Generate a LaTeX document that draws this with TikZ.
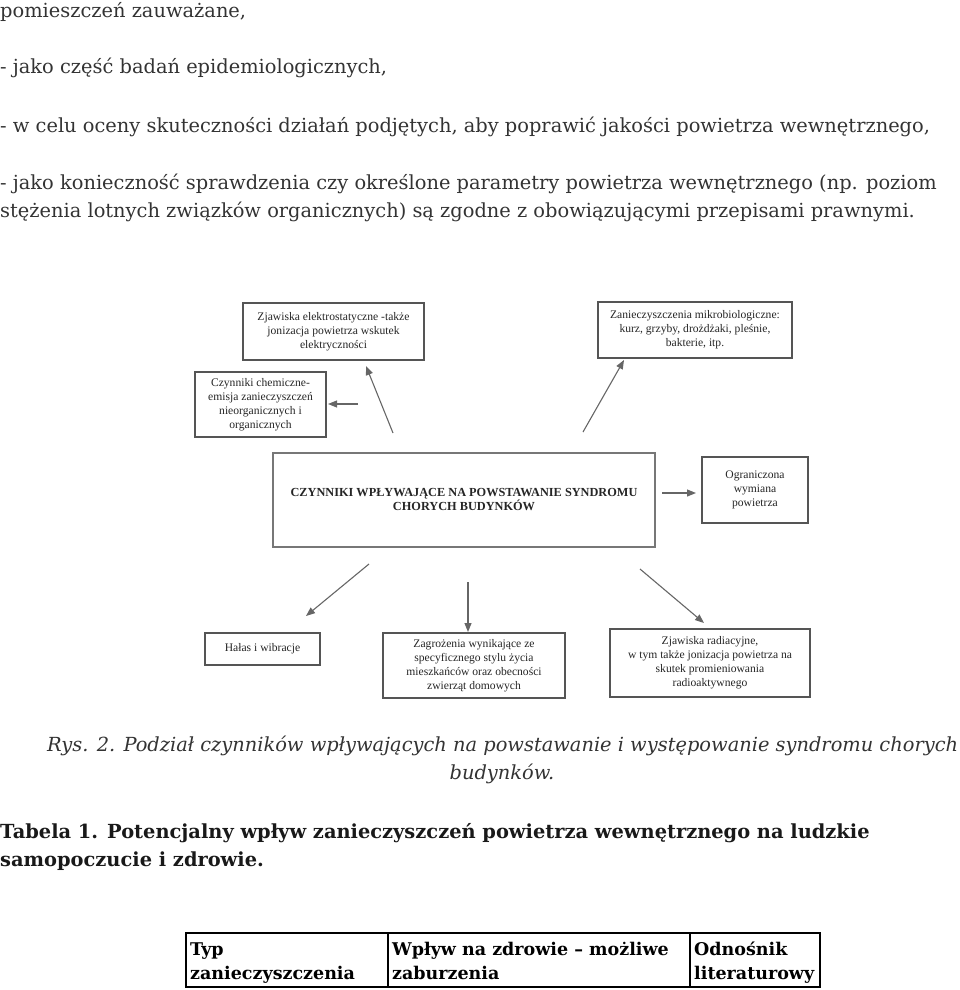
\documentclass[tikz,border=0pt]{standalone}
\usepackage{fontspec}
\setmainfont{DejaVu Serif}
\newfontfamily\diafont{Liberation Serif}
\usetikzlibrary{arrows.meta}
\definecolor{txt}{HTML}{333333}
\definecolor{frame}{HTML}{555555}
\tikzset{
  para/.style={anchor=base west, inner sep=0pt, text=txt, font=\fontsize{19.4}{23}\selectfont},
  box/.style={draw=frame, line width=1.6pt, fill=white, align=center, inner sep=2pt,
     text=black!85, font=\diafont\fontsize{11.6}{14}\selectfont},
  conn/.style={draw=frame!90, line width=1.1pt, -{Triangle[length=9pt,width=7pt]}},
  cell/.style={anchor=base west, inner sep=0pt, font=\bfseries\fontsize{17.5}{20}\selectfont}
}
\begin{document}
\begin{tikzpicture}[x=1pt,y=-1pt]
\useasboundingbox (0,0) rectangle (960,990);
% top paragraph
\node[para] (l1) at (0,18) {pomieszczeń zauważane,};
\node[para] (l2) at (0,74) {- jako część badań epidemiologicznych,};
\node[para] (l3) at (0,132) {- w celu oceny skuteczności działań podjętych, aby poprawić jakości powietrza wewnętrznego,};
\node[para] (l4) at (0,189) {- jako konieczność sprawdzenia czy określone parametry powietrza wewnętrznego (np. poziom};
\node[para] (l5) at (0,217) {stężenia lotnych związków organicznych) są zgodne z obowiązującymi przepisami prawnymi.};
% diagram boxes
\node[box, minimum width=181, minimum height=57] (b1) at (333.5,331.5)
  {Zjawiska elektrostatyczne -także\\jonizacja powietrza wskutek\\elektryczności};
\node[box, minimum width=194, minimum height=56] (b2) at (695,330)
  {Zanieczyszczenia mikrobiologiczne:\\kurz, grzyby, drożdżaki, pleśnie,\\bakterie, itp.};
\node[box, minimum width=131, minimum height=65] (b3) at (260.5,404.5)
  {Czynniki chemiczne-\\emisja zanieczyszczeń\\nieorganicznych i\\organicznych};
\node[box, line width=2.6pt, draw=frame!80, minimum width=382, minimum height=94,
  font=\diafont\bfseries\fontsize{12.3}{14}\selectfont] (main) at (464,500)
  {CZYNNIKI WPŁYWAJĄCE NA POWSTAWANIE SYNDROMU\\CHORYCH BUDYNKÓW};
\node[box, minimum width=106, minimum height=66] (b4) at (755,490)
  {Ograniczona\\wymiana\\powietrza};
\node[box, minimum width=115, minimum height=32] (b5) at (262.5,649)
  {Hałas i wibracje};
\node[box, minimum width=182, minimum height=65] (b6) at (474,665.5)
  {Zagrożenia wynikające ze\\specyficznego stylu życia\\mieszkańców oraz obecności\\zwierząt domowych};
\node[box, minimum width=200, minimum height=68] (b7) at (710,663)
  {Zjawiska radiacyjne,\\w tym także jonizacja powietrza na\\skutek promieniowania\\radioaktywnego};
% arrow end points
\coordinate (s1) at (393,433); \coordinate (t1) at (366,366);
\coordinate (s2) at (583,432); \coordinate (t2) at (624,360);
\coordinate (s3) at (358,404); \coordinate (t3) at (328,404);
\coordinate (s4) at (662,493); \coordinate (t4) at (696,493);
\coordinate (s5) at (369,564); \coordinate (t5) at (306,616);
\coordinate (s6) at (468,582); \coordinate (t6) at (468,632);
\coordinate (s7) at (640,569); \coordinate (t7) at (704,623);
\draw[conn] (s1) -- (t1);
\draw[conn] (s2) -- (t2);
\draw[conn] (s3) -- (t3);
\draw[conn] (s4) -- (t4);
\draw[conn] (s5) -- (t5);
\draw[conn] (s6) -- (t6);
\draw[conn] (s7) -- (t7);
% caption
\node[para, font=\itshape\fontsize{19.4}{23}\selectfont] (cap1) at (47,751)
  {Rys. 2. Podział czynników wpływających na powstawanie i występowanie syndromu chorych};
\node[para, anchor=base, font=\itshape\fontsize{19.4}{23}\selectfont] (cap2) at (502,779) {budynków.};
\node[para, text=black!90, font=\bfseries\fontsize{19.4}{23}\selectfont] (tab1) at (0,838)
  {Tabela 1. Potencjalny wpływ zanieczyszczeń powietrza wewnętrznego na ludzkie};
\node[para, text=black!90, font=\bfseries\fontsize{19.4}{23}\selectfont] (tab2) at (0,866)
  {samopoczucie i zdrowie.};
% table
\draw[line width=2pt] (186,933) rectangle (820,987);
\draw[line width=2pt] (388,933) -- (388,987);
\draw[line width=2pt] (690,933) -- (690,987);
\node[cell] (c1a) at (190,955) {Typ};
\node[cell] (c1b) at (190,979) {zanieczyszczenia};
\node[cell] (c2a) at (392,955) {Wpływ na zdrowie – możliwe};
\node[cell] (c2b) at (392,979) {zaburzenia};
\node[cell] (c3a) at (694,955) {Odnośnik};
\node[cell] (c3b) at (694,979) {literaturowy};
\end{tikzpicture}
\end{document}
